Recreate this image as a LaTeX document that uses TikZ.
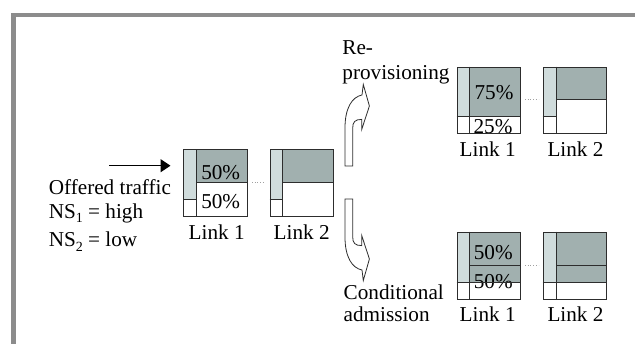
\documentclass[tikz,border=0pt]{standalone}
\usepackage{fontspec}
\setmainfont{Liberation Serif}
\usetikzlibrary{arrows.meta}
\definecolor{framegrey}{RGB}{140,140,140}
\definecolor{darkfill}{RGB}{161,176,175}
\definecolor{lightfill}{RGB}{208,220,220}
\definecolor{edgecol}{RGB}{45,45,45}
\definecolor{dotcol}{RGB}{160,160,160}
\newcommand{\subnum}[1]{\raisebox{-0.22em}{\fontsize{14}{14}\selectfont #1}}
\begin{document}
\begin{tikzpicture}[x=1pt,y=-1pt,
  lbl/.style={font=\fontsize{21.2}{24}\selectfont, inner sep=0pt, text=black},
  linkbox/.style={draw=edgecol, line width=1.1pt, inner sep=0pt, anchor=north west, minimum width=63.5pt, minimum height=66.7pt},
  divline/.style={draw=edgecol, line width=1pt},
  dotline/.style={draw=dotcol, line width=0.7pt, dotted},
  bendarrow/.style={draw=edgecol, line width=0.8pt, fill=white, line join=miter}]
\useasboundingbox (0,0) rectangle (635,344);
% frame
\fill[framegrey] (11,13) rectangle (635,17.5);
\fill[framegrey] (11,13) rectangle (16,344);

% ---------- main links ----------
\fill[lightfill] (183,149.3) rectangle (196,199.3);
\fill[darkfill] (196,149.3) rectangle (246.5,182.7);
\draw[divline] (196,149.3) -- (196,216);
\draw[divline] (196,182.7) -- (246.5,182.7);
\draw[divline] (183,199.3) -- (196,199.3);
\node[linkbox] (m1) at (183,149.3) {};

\fill[lightfill] (269.7,149.3) rectangle (282.7,199.3);
\fill[darkfill] (282.7,149.3) rectangle (333.2,182.7);
\draw[divline] (282.7,149.3) -- (282.7,216);
\draw[divline] (282.7,182.7) -- (333.2,182.7);
\draw[divline] (269.7,199.3) -- (282.7,199.3);
\node[linkbox] (m2) at (269.7,149.3) {};

\coordinate (md1) at (252,182.7);
\coordinate (md2) at (265,182.7);
\draw[dotline] (md1) -- (md2);

\node[lbl, anchor=base] (m1p) at (220.7,180) {50\%};
\node[lbl, anchor=base] (m1q) at (220.7,208.3) {50\%};
\node[lbl, anchor=base] (m1l) at (216.7,239.3) {Link 1};
\node[lbl, anchor=base] (m2l) at (301.7,239.3) {Link 2};

% offered traffic
\coordinate (arrS) at (109.4,165.7);
\coordinate (arrE) at (170.5,165.7);
\draw[line width=1.2pt, -{Triangle[length=10pt,width=13pt]}] (arrS) -- (arrE);
\node[lbl, anchor=base west] (off) at (48.6,195) {Offered traffic};
\node[lbl, anchor=base west] (ns1) at (48.6,218.3) {NS\subnum{1} = high};
\node[lbl, anchor=base west] (ns2) at (48.6,246.7) {NS\subnum{2} = low};

% ---------- bent arrows ----------
\draw[bendarrow] (345,166) -- (352.7,166) -- (352.7,128)
  .. controls (352.7,122) and (355,119.4) .. (361.7,119.4)
  -- (361.7,129.5) -- (369.4,106) -- (363.3,84.5) -- (362,95)
  .. controls (352,97) and (345,108) .. (345,128) -- cycle;
\draw[bendarrow] (345,199) -- (352.7,199) -- (352.7,237)
  .. controls (352.7,243) and (355,245.6) .. (361.7,245.6)
  -- (361.7,235.5) -- (369.4,259) -- (363.3,280.5) -- (362,270)
  .. controls (352,268) and (345,257) .. (345,237) -- cycle;

\node[lbl, anchor=base west] (re) at (342.2,55) {Re-};
\node[lbl, anchor=base west] (prov) at (342.2,79.3) {provisioning};
\node[lbl, anchor=base west] (cond) at (343.5,300) {Conditional};
\node[lbl, anchor=base west] (adm) at (343.5,321.7) {admission};

% ---------- top group ----------
\fill[lightfill] (456.5,66.7) rectangle (469.8,116.7);
\fill[darkfill] (469.8,66.7) rectangle (519.5,116.7);
\draw[divline] (469.8,66.7) -- (469.8,133.3);
\draw[divline] (456.5,116.7) -- (519.5,116.7);
\node[lbl, anchor=base] (t1p) at (494,99.3) {75\%};
\node[lbl, anchor=base] (t1q) at (493,133.8) {25\%};
\node[linkbox] (t1) at (456.5,66.7) {};

\fill[lightfill] (542.7,66.7) rectangle (556.1,116.7);
\fill[darkfill] (556.1,66.7) rectangle (606.3,99.3);
\draw[divline] (556.1,66.7) -- (556.1,133.3);
\draw[divline] (556.1,99.3) -- (606.3,99.3);
\draw[divline] (542.7,116.7) -- (556.1,116.7);
\node[linkbox, minimum width=63.6pt] (t2) at (542.7,66.7) {};

\coordinate (td1) at (525,99.3);
\coordinate (td2) at (538.5,99.3);
\draw[dotline] (td1) -- (td2);
\node[lbl, anchor=base] (t1l) at (487.7,156.7) {Link 1};
\node[lbl, anchor=base] (t2l) at (575.5,156.7) {Link 2};

% ---------- bottom group ----------
\fill[lightfill] (456.5,231.7) rectangle (469.8,282.3);
\fill[darkfill] (469.8,231.7) rectangle (519.5,282.3);
\node[lbl, anchor=base] (b1p) at (493.3,260) {50\%};
\node[lbl, anchor=base] (b1q) at (493.3,288.3) {50\%};
\draw[divline] (469.8,231.7) -- (469.8,299);
\draw[divline] (469.8,265.7) -- (519.5,265.7);
\draw[divline] (456.5,282.3) -- (519.5,282.3);
\node[linkbox, minimum height=67.3pt] (b1) at (456.5,231.7) {};

\fill[lightfill] (542.7,231.7) rectangle (556.1,282.3);
\fill[darkfill] (556.1,231.7) rectangle (606.3,282.3);
\draw[divline] (556.1,231.7) -- (556.1,299);
\draw[divline] (556.1,265.7) -- (606.3,265.7);
\draw[divline] (542.7,282.3) -- (606.3,282.3);
\node[linkbox, minimum width=63.6pt, minimum height=67.3pt] (b2) at (542.7,231.7) {};

\coordinate (bd1) at (525,265.7);
\coordinate (bd2) at (538.5,265.7);
\draw[dotline] (bd1) -- (bd2);
\node[lbl, anchor=base] (b1l) at (487.7,321.7) {Link 1};
\node[lbl, anchor=base] (b2l) at (575.5,321.7) {Link 2};
\end{tikzpicture}
\end{document}
